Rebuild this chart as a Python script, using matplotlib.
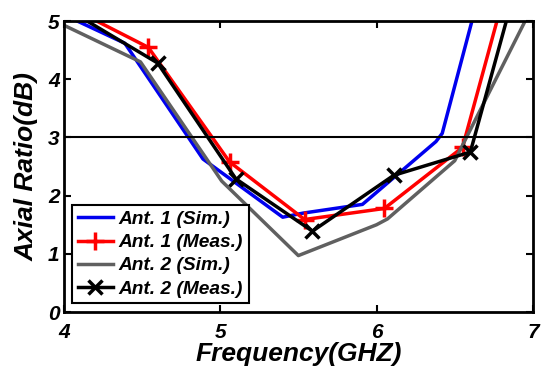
import numpy as np
import matplotlib.pyplot as plt

# Ant. 1 simulated
f_a1_sim = [4.0, 4.39, 4.89, 5.40, 5.53, 5.91, 6.38, 6.42, 6.61]
ar_a1_sim = [5.11, 4.62, 2.63, 1.63, 1.70, 1.85, 2.93, 3.07, 5.0]
# Ant. 1 measured
f_a1_meas = [4.0, 4.54, 5.06, 5.54, 6.05, 6.55, 6.77]
ar_a1_meas = [5.29, 4.55, 2.58, 1.59, 1.78, 2.83, 5.0]
# Ant. 2 simulated
f_a2_sim = [4.0, 4.49, 5.01, 5.5, 6.0, 6.07, 6.5, 6.95]
ar_a2_sim = [4.93, 4.3, 2.25, 0.97, 1.5, 1.6, 2.6, 5.0]
# Ant. 2 measured
f_a2_meas = [4.0, 4.6, 5.1, 5.59, 6.11, 6.6, 6.83]
ar_a2_meas = [5.24, 4.28, 2.29, 1.39, 2.35, 2.75, 5.0]

plt.rcParams['font.family'] = ['Liberation Sans', 'DejaVu Sans']
fnt = dict(fontweight='bold', fontstyle='italic')

fig = plt.figure(figsize=(5.41, 3.71), dpi=100)
ax = fig.add_axes([0.118, 0.159, 0.867, 0.784])

ax.plot(f_a1_sim, ar_a1_sim, color='#0000ee', lw=2.5, label='Ant. 1 (Sim.)')
ax.plot(f_a1_meas, ar_a1_meas, color='#ff0000', lw=2.5, marker='+', ms=13, mew=2.5,
        markevery=list(range(1, len(f_a1_meas) - 1)), label='Ant. 1 (Meas.)')
ax.plot(f_a2_sim, ar_a2_sim, color='#606060', lw=2.5, label='Ant. 2 (Sim.)')
ax.plot(f_a2_meas, ar_a2_meas, color='black', lw=2.5, marker='x', ms=10, mew=2.5,
        markevery=list(range(1, len(f_a2_meas) - 1)), label='Ant. 2 (Meas.)')
ax.axhline(3, color='black', lw=1.5)

ax.set_xlim(4, 7)
ax.set_ylim(0, 5)
ax.set_xticks([4, 5, 6, 7])
ax.set_yticks([0, 1, 2, 3, 4, 5])
ax.tick_params(direction='in', top=True, right=True, length=5, width=1.5)
ax.tick_params(axis='x', pad=8)
ax.tick_params(axis='y', pad=3)
for lab in ax.get_xticklabels() + ax.get_yticklabels():
    lab.set_fontsize(15)
    lab.set_fontweight('bold')
    lab.set_fontstyle('italic')
for s in ax.spines.values():
    s.set_linewidth(2)

ax.set_xlabel('Frequency(GHZ)', fontsize=19, labelpad=0, **fnt)
ax.set_ylabel('Axial Ratio(dB)', fontsize=19, labelpad=7, **fnt)

leg = ax.legend(loc='lower left', prop=dict(size=13.8, weight='bold', style='italic'),
                fancybox=False, edgecolor='black', framealpha=1, handlelength=1.8,
                borderpad=0.3, labelspacing=0.3, handletextpad=0.3,
                borderaxespad=0.45)
leg.get_frame().set_linewidth(1.5)

fig.savefig('out.png', dpi=100)
